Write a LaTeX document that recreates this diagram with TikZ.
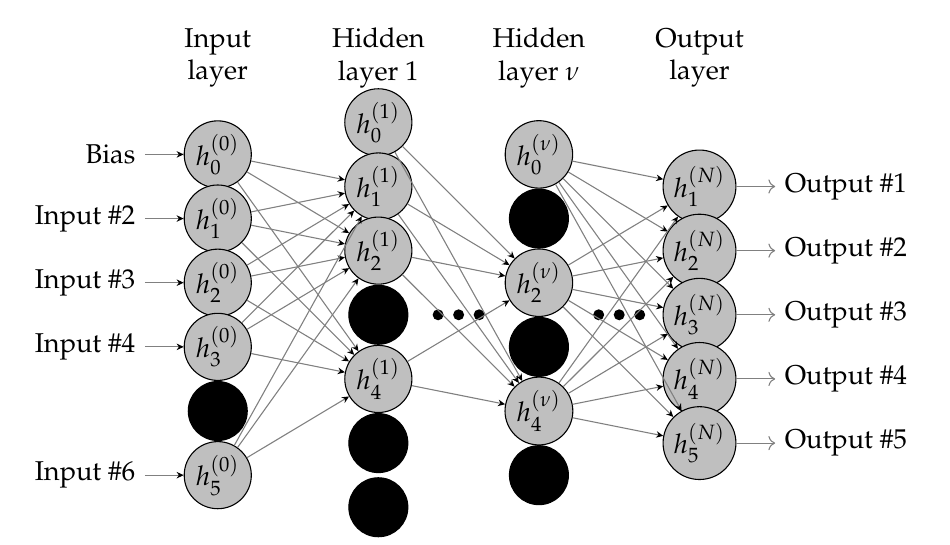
\documentclass[tikz,border=0pt]{standalone}
\usepackage[T1]{fontenc}
\usepackage{mathpazo}
\usepackage{tikz}
\usetikzlibrary{positioning,arrows.meta}

\begin{document}
\begin{tikzpicture}[neuron/.style={circle, draw=black, fill=lightgray, thin, inner sep=1pt, minimum size=0.762cm, on grid},
        blanknode/.style={neuron, fill=black},
        dotnode/.style={circle, fill=black, inner sep=0pt, minimum size=0.142cm, on grid},
        layertitle/.style={align=center, on grid},
        synapse/.style={draw=gray, -{Stealth[color=black, length=2.6pt, width=2.4pt]}},
        outarrow/.style={draw=gray, ->}]

        \useasboundingbox (-2.814,1.995) rectangle (9.462,-5.047);

        % input layer
        \node[neuron] (I0) {$h^{(0)}_0$};
        \node[neuron] (I1) [below=0.829cm of I0] {$h^{(0)}_1$};
        \node[neuron] (I2) [below=0.829cm of I1] {$h^{(0)}_2$};
        \node[neuron] (I3) [below=0.829cm of I2] {$h^{(0)}_3$};
        \node[blanknode] (I4) [below=0.829cm of I3] {};
        \node[neuron] (I5) [below=0.829cm of I4] {$h^{(0)}_5$};

        % hidden layer 1
        \node[neuron] (H0) [above right=0.4145cm and 2.075cm of I0] {$h^{(1)}_0$};
        \node[neuron] (H1) [below=0.829cm of H0] {$h^{(1)}_1$};
        \node[neuron] (H2) [below=0.829cm of H1] {$h^{(1)}_2$};
        \node[blanknode] (H3) [below=0.829cm of H2] {};
        \node[neuron] (H4) [below=0.829cm of H3] {$h^{(1)}_4$};
        \node[blanknode] (H5) [below=0.829cm of H4] {};
        \node[blanknode] (H6) [below=0.829cm of H5] {};

        % hidden layer nu
        \node[neuron] (V0) [right=4.15cm of I0] {$h^{(\nu)}_0$};
        \node[blanknode] (V1) [below=0.829cm of V0] {};
        \node[neuron] (V2) [below=0.829cm of V1] {$h^{(\nu)}_2$};
        \node[blanknode] (V3) [below=0.829cm of V2] {};
        \node[neuron] (V4) [below=0.829cm of V3] {$h^{(\nu)}_4$};
        \node[blanknode] (V5) [below=0.829cm of V4] {};

        % output layer
        \node[neuron] (O1) [below right=0.4145cm and 2.075cm of V0] {$h^{(N)}_1$};
        \node[neuron] (O2) [below=0.829cm of O1] {$h^{(N)}_2$};
        \node[neuron] (O3) [below=0.829cm of O2] {$h^{(N)}_3$};
        \node[neuron] (O4) [below=0.829cm of O3] {$h^{(N)}_4$};
        \node[neuron] (O5) [below=0.829cm of O4] {$h^{(N)}_5$};

        % titles
        \node[layertitle] (tin) [above=1.246cm of I0] {Input\\layer};
        \node[layertitle] (th1) [above=0.8315cm of H0] {Hidden\\layer 1};
        \node[layertitle] (thv) [above=1.246cm of V0] {Hidden\\layer $\nu$};
        \node[layertitle] (tout) [above=1.6605cm of O1] {Output\\layer};

        % dots
        \node[dotnode] (da2) [right=1.0375cm of H3] {};
        \node[dotnode] (da1) [left=0.265cm of da2] {};
        \node[dotnode] (da3) [right=0.265cm of da2] {};
        \node[dotnode] (db2) [left=1.0375cm of O3] {};
        \node[dotnode] (db1) [left=0.265cm of db2] {};
        \node[dotnode] (db3) [right=0.265cm of db2] {};

        % inputs and outputs
        \node (lbias) [left=0.5cm of I0] {Bias};
        \node (lin2) [left=0.5cm of I1] {Input \#2};
        \node (lin3) [left=0.5cm of I2] {Input \#3};
        \node (lin4) [left=0.5cm of I3] {Input \#4};
        \node (lin6) [left=0.5cm of I5] {Input \#6};
        \node (lout1) [right=0.5cm of O1] {Output \#1};
        \node (lout2) [right=0.5cm of O2] {Output \#2};
        \node (lout3) [right=0.5cm of O3] {Output \#3};
        \node (lout4) [right=0.5cm of O4] {Output \#4};
        \node (lout5) [right=0.5cm of O5] {Output \#5};

        \draw[synapse] (lbias) -- (I0);
        \draw[synapse] (lin2) -- (I1);
        \draw[synapse] (lin3) -- (I2);
        \draw[synapse] (lin4) -- (I3);
        \draw[synapse] (lin6) -- (I5);
        \draw[outarrow] (O1) -- (lout1);
        \draw[outarrow] (O2) -- (lout2);
        \draw[outarrow] (O3) -- (lout3);
        \draw[outarrow] (O4) -- (lout4);
        \draw[outarrow] (O5) -- (lout5);

        % connections
        \path[synapse] (I0) edge (H1) edge (H2) edge (H4);
        \path[synapse] (I1) edge (H1) edge (H2) edge (H4);
        \path[synapse] (I2) edge (H1) edge (H2) edge (H4);
        \path[synapse] (I3) edge (H1) edge (H2) edge (H4);
        \path[synapse] (I5) edge (H1) edge (H2) edge (H4);
        \path[synapse] (H0) edge (V2) edge (V4);
        \path[synapse] (H1) edge (V2) edge (V4);
        \path[synapse] (H2) edge (V2) edge (V4);
        \path[synapse] (H4) edge (V2) edge (V4);
        \path[synapse] (V0) edge (O1) edge (O2) edge (O3) edge (O4) edge (O5);
        \path[synapse] (V2) edge (O1) edge (O2) edge (O3) edge (O4) edge (O5);
        \path[synapse] (V4) edge (O1) edge (O2) edge (O3) edge (O4) edge (O5);

        \end{tikzpicture}
\end{document}
